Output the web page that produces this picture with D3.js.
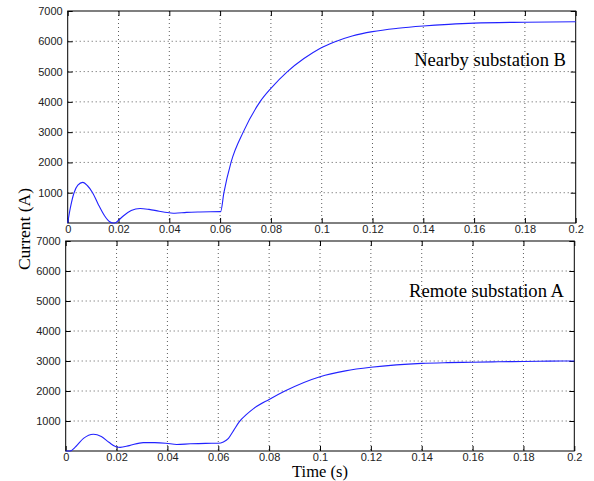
<!DOCTYPE html>
<html>
<head>
<meta charset="utf-8">
<script src="https://cdn.jsdelivr.net/npm/d3@7"></script>
<style>
  body { margin: 0; background: #fff; }
  .tick text { font-family: "Liberation Sans", Arial, sans-serif; font-size: 11px; fill: #222; }
  .lbl { font-family: "Liberation Serif", "Times New Roman", serif; fill: #000; }
</style>
</head>
<body>
<svg id="chart" width="594" height="481"></svg>
<script>
// time (s) and current (A)
var tNear = [0, 0.001, 0.0025, 0.004, 0.0059, 0.0078, 0.0098, 0.012, 0.0145, 0.0165, 0.0178, 0.019, 0.02, 0.022, 0.025, 0.0285, 0.032, 0.036, 0.04, 0.0422, 0.0468, 0.052, 0.0602,
             0.0615, 0.0643, 0.0691, 0.0757, 0.08, 0.0865, 0.093, 0.0993, 0.105, 0.112, 0.12, 0.13, 0.14, 0.15, 0.16, 0.18, 0.2];
var iNear = [0, 480, 1000, 1250, 1340, 1230, 1000, 620, 240, 40, 0, 20, 90, 240, 410, 480, 450, 390, 340, 320, 350, 365, 374,
             1000, 2000, 3000, 4000, 4445, 5000, 5430, 5765, 5980, 6175, 6320, 6430, 6505, 6560, 6600, 6630, 6645];

var tRemote = [0, 0.0017, 0.004, 0.007, 0.0109, 0.014, 0.017, 0.0198, 0.0214, 0.025, 0.0305, 0.035, 0.0394, 0.0437, 0.049, 0.055, 0.06,
               0.062, 0.064, 0.066, 0.0683, 0.071, 0.074, 0.08, 0.0862, 0.1, 0.11, 0.12, 0.13, 0.14, 0.15, 0.16, 0.17, 0.18, 0.19, 0.2];
var iRemote = [0, 0, 150, 420, 557, 480, 290, 140, 120, 180, 280, 280, 260, 215, 240, 255, 257,
               300, 420, 680, 980, 1210, 1420, 1720, 2000, 2477, 2670, 2790, 2870, 2920, 2945, 2960, 2975, 2985, 2995, 3000];

var xTicks = [0, 0.02, 0.04, 0.06, 0.08, 0.1, 0.12, 0.14, 0.16, 0.18, 0.2];
var yTicks = [1000, 2000, 3000, 4000, 5000, 6000, 7000];

var panels = [
  { t: tNear, v: iNear, left: 67.7, top: 11, w: 508, h: 212, name: "Nearby substation B", nx: 566, ny: 66 },
  { t: tRemote, v: iRemote, left: 65.7, top: 241, w: 508.6, h: 210, name: "Remote substation A", nx: 564, ny: 297 }
];

var svg = d3.select("#chart");

panels.forEach(function(p) {
  var g = svg.append("g").attr("transform", "translate(" + p.left + "," + p.top + ")");
  var x = d3.scaleLinear().domain([0, 0.2]).range([0, p.w]);
  var y = d3.scaleLinear().domain([0, 7000]).range([p.h, 0]);

  // grid
  g.selectAll(".gx").data(xTicks.slice(1, -1)).enter().append("line")
    .attr("x1", x).attr("x2", x).attr("y1", 0).attr("y2", p.h)
    .attr("stroke", "#333").attr("stroke-width", 0.8).attr("stroke-dasharray", "1,3");
  g.selectAll(".gy").data(yTicks.slice(0, -1)).enter().append("line")
    .attr("y1", y).attr("y2", y).attr("x1", 0).attr("x2", p.w)
    .attr("stroke", "#333").attr("stroke-width", 0.8).attr("stroke-dasharray", "1,3");

  // axes (ticks inward)
  g.append("g").attr("transform", "translate(0," + p.h + ")")
    .call(d3.axisBottom(x).tickValues(xTicks).tickSize(-5).tickPadding(2).tickFormat(d3.format("~g")))
    .call(function(a) { a.select(".domain").remove(); });
  g.append("g")
    .call(d3.axisLeft(y).tickValues(yTicks).tickSize(-5).tickPadding(5).tickFormat(d3.format("d")))
    .call(function(a) { a.select(".domain").remove(); });
  g.append("g")
    .call(d3.axisTop(x).tickValues(xTicks).tickSize(-5).tickFormat(""))
    .call(function(a) { a.select(".domain").remove(); });
  g.append("g").attr("transform", "translate(" + p.w + ",0)")
    .call(d3.axisRight(y).tickValues(yTicks).tickSize(-5).tickFormat(""))
    .call(function(a) { a.select(".domain").remove(); });

  g.append("rect").attr("width", p.w).attr("height", p.h)
    .attr("fill", "none").attr("stroke", "#000").attr("stroke-width", 1);

  var line = d3.line()
    .x(function(d, i) { return x(p.t[i]); })
    .y(function(d) { return y(d); })
    .curve(d3.curveMonotoneX);

  g.append("path").datum(p.v).attr("d", line)
    .attr("fill", "none").attr("stroke", "#2222ff").attr("stroke-width", 1.1);

  svg.append("text").attr("class", "lbl").attr("x", p.nx).attr("y", p.ny)
    .attr("text-anchor", "end").style("font-size", "18.6px").text(p.name);
});

svg.append("text").attr("class", "lbl")
  .attr("transform", "translate(30,229) rotate(-90)")
  .attr("text-anchor", "middle").style("font-size", "17.5px").text("Current (A)");

svg.append("text").attr("class", "lbl")
  .attr("x", 320).attr("y", 477)
  .attr("text-anchor", "middle").style("font-size", "16.5px").text("Time (s)");
</script>
</body>
</html>
